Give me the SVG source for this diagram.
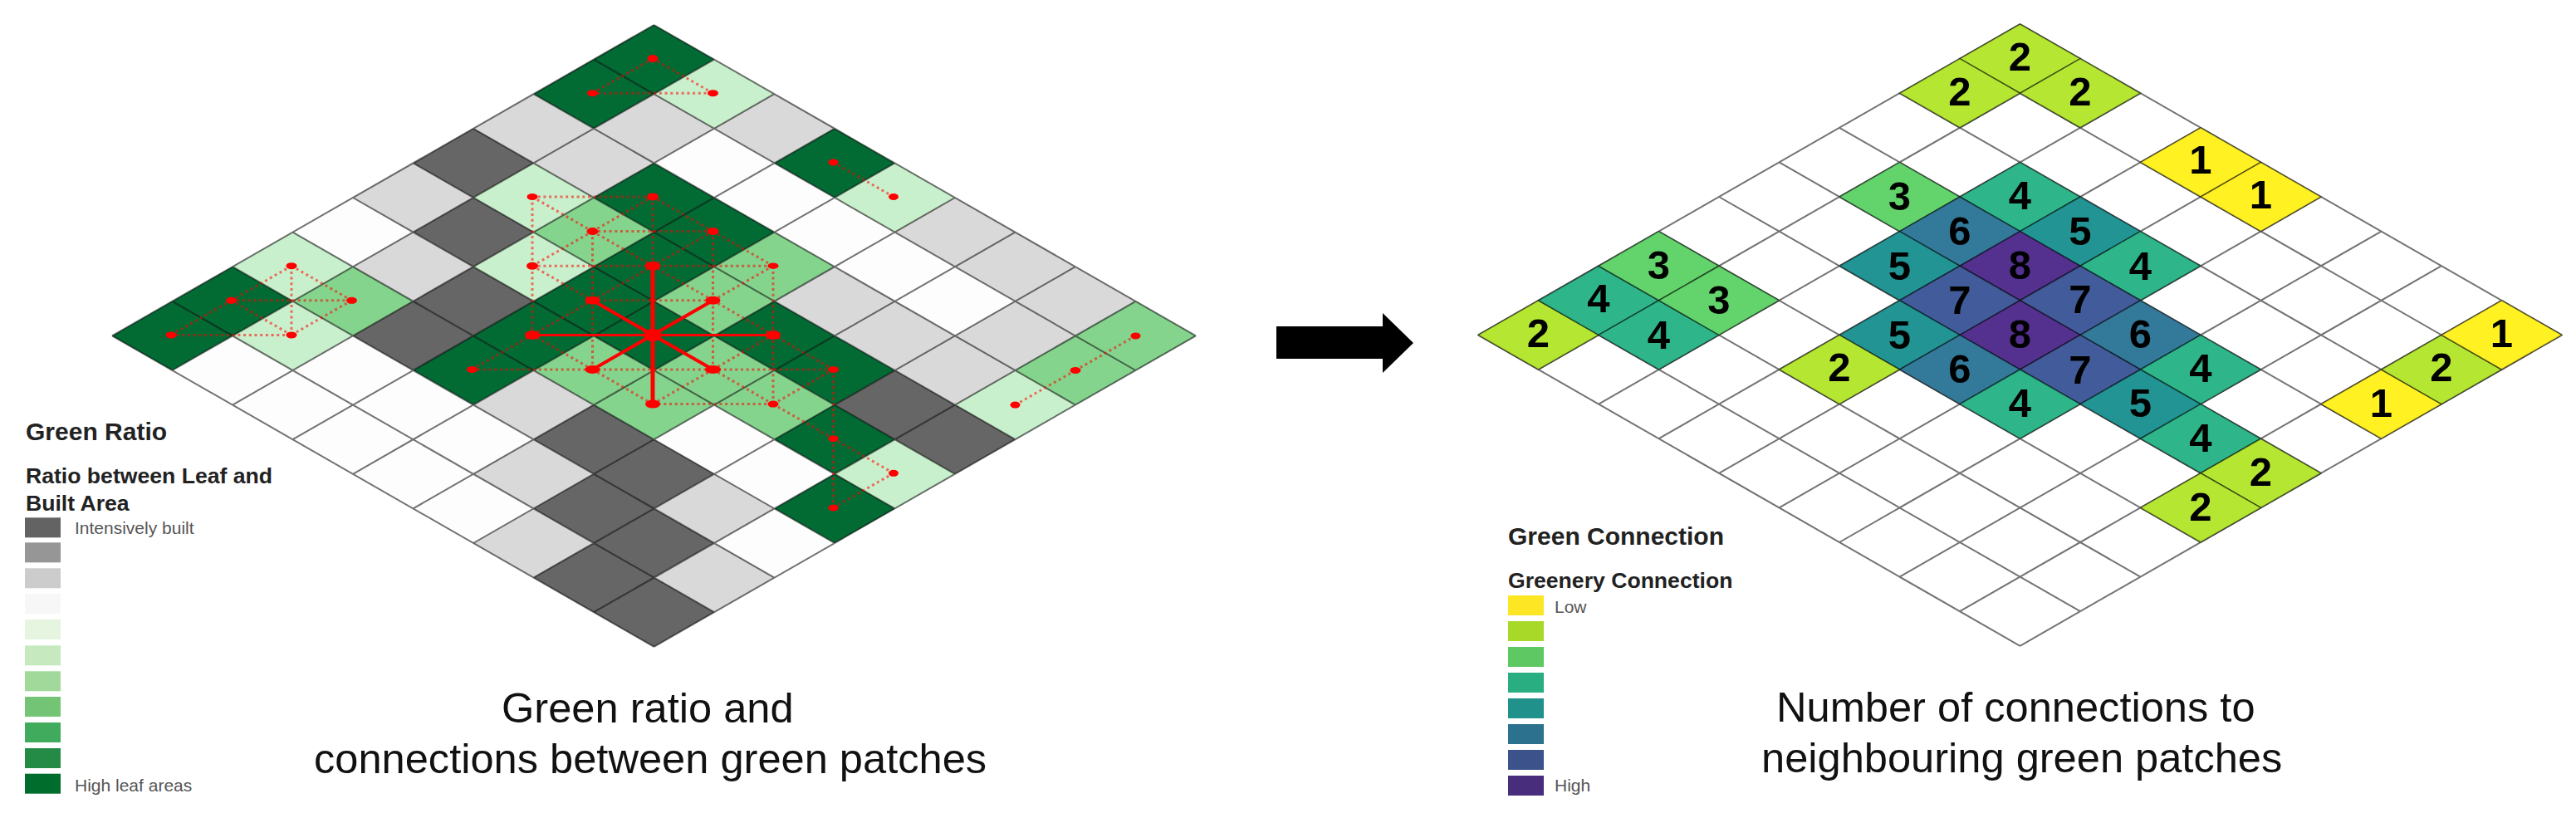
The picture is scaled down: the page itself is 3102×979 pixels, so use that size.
<svg xmlns="http://www.w3.org/2000/svg" width="3102" height="979" viewBox="0 0 3102 979">
<style>
text{font-family:"Liberation Sans",Arial,sans-serif}
.W{fill:#fdfdfd}.L{fill:#d9d9d9}.K{fill:#666666}.G{fill:#026b34}.M{fill:#84d48d}.P{fill:#c9f0cc}
.grid{fill:none;stroke:#000;stroke-opacity:.55;stroke-width:2}
.patch{stroke:#000;stroke-opacity:.5;stroke-width:1.6}
.v1{fill:#fff122}.v2{fill:#b5e732}.v3{fill:#62d46b}.v4{fill:#2eb58a}.v5{fill:#229494}.v6{fill:#33799a}.v7{fill:#425b9a}.v8{fill:#54308f}
.num{font-size:49px;font-weight:700;fill:#000;text-anchor:middle}
.dot line{stroke:#ff0000;stroke-opacity:.55;stroke-width:3;stroke-dasharray:3 3.7}
.solid line{stroke:#ff0000}
.pts ellipse{fill:#ff0000}
.t1{font-size:30px;font-weight:700;fill:#222}
.t2{font-size:26.6px;font-weight:700;fill:#222}
.lab{font-size:21px;fill:#555}
.cap{font-size:50.6px;fill:#111}
</style>
<defs>
<polygon id="c" points="0,-41.6 72.5,0 0,41.6 -72.5,0"/>
<path id="g" class="grid" d="M787.5 30l652.5 374.4M715 71.6l652.5 374.4M642.5 113.2l652.5 374.4M570 154.8l652.5 374.4M497.5 196.4l652.5 374.4M425 238l652.5 374.4M352.5 279.6l652.5 374.4M280 321.2l652.5 374.4M207.5 362.8l652.5 374.4M135 404.4l652.5 374.4M787.5 30l-652.5 374.4M860 71.6l-652.5 374.4M932.5 113.2l-652.5 374.4M1005 154.8l-652.5 374.4M1077.5 196.4l-652.5 374.4M1150 238l-652.5 374.4M1222.5 279.6l-652.5 374.4M1295 321.2l-652.5 374.4M1367.5 362.8l-652.5 374.4M1440 404.4l-652.5 374.4"/>
</defs>
<rect width="3102" height="979" fill="#ffffff"/>

<g id="left-map">
<g id="left-cells">
<use href="#c" class="G" x="787.5" y="71.6"/>
<use href="#c" class="G" x="715" y="113.2"/><use href="#c" class="P" x="860" y="113.2"/>
<use href="#c" class="L" x="642.5" y="154.8"/><use href="#c" class="L" x="787.5" y="154.8"/><use href="#c" class="L" x="932.5" y="154.8"/>
<use href="#c" class="K" x="570" y="196.4"/><use href="#c" class="L" x="715" y="196.4"/><use href="#c" class="W" x="860" y="196.4"/><use href="#c" class="G" x="1005" y="196.4"/>
<use href="#c" class="L" x="497.5" y="238"/><use href="#c" class="P" x="642.5" y="238"/><use href="#c" class="G" x="787.5" y="238"/><use href="#c" class="W" x="932.5" y="238"/><use href="#c" class="P" x="1077.5" y="238"/>
<use href="#c" class="W" x="425" y="279.6"/><use href="#c" class="K" x="570" y="279.6"/><use href="#c" class="M" x="715" y="279.6"/><use href="#c" class="G" x="860" y="279.6"/><use href="#c" class="W" x="1005" y="279.6"/><use href="#c" class="L" x="1150" y="279.6"/>
<use href="#c" class="P" x="352.5" y="321.2"/><use href="#c" class="L" x="497.5" y="321.2"/><use href="#c" class="P" x="642.5" y="321.2"/><use href="#c" class="G" x="787.5" y="321.2"/><use href="#c" class="M" x="932.5" y="321.2"/><use href="#c" class="W" x="1077.5" y="321.2"/><use href="#c" class="L" x="1222.5" y="321.2"/>
<use href="#c" class="G" x="280" y="362.8"/><use href="#c" class="M" x="425" y="362.8"/><use href="#c" class="K" x="570" y="362.8"/><use href="#c" class="G" x="715" y="362.8"/><use href="#c" class="M" x="860" y="362.8"/><use href="#c" class="L" x="1005" y="362.8"/><use href="#c" class="W" x="1150" y="362.8"/><use href="#c" class="L" x="1295" y="362.8"/>
<use href="#c" class="G" x="207.5" y="404.4"/><use href="#c" class="P" x="352.5" y="404.4"/><use href="#c" class="K" x="497.5" y="404.4"/><use href="#c" class="G" x="642.5" y="404.4"/><use href="#c" class="G" x="787.5" y="404.4"/><use href="#c" class="G" x="932.5" y="404.4"/><use href="#c" class="L" x="1077.5" y="404.4"/><use href="#c" class="L" x="1222.5" y="404.4"/><use href="#c" class="M" x="1367.5" y="404.4"/>
<use href="#c" class="W" x="280" y="446"/><use href="#c" class="W" x="425" y="446"/><use href="#c" class="G" x="570" y="446"/><use href="#c" class="M" x="715" y="446"/><use href="#c" class="M" x="860" y="446"/><use href="#c" class="G" x="1005" y="446"/><use href="#c" class="L" x="1150" y="446"/><use href="#c" class="M" x="1295" y="446"/>
<use href="#c" class="W" x="352.5" y="487.6"/><use href="#c" class="W" x="497.5" y="487.6"/><use href="#c" class="L" x="642.5" y="487.6"/><use href="#c" class="M" x="787.5" y="487.6"/><use href="#c" class="M" x="932.5" y="487.6"/><use href="#c" class="K" x="1077.5" y="487.6"/><use href="#c" class="P" x="1222.5" y="487.6"/>
<use href="#c" class="W" x="425" y="529.2"/><use href="#c" class="W" x="570" y="529.2"/><use href="#c" class="K" x="715" y="529.2"/><use href="#c" class="W" x="860" y="529.2"/><use href="#c" class="G" x="1005" y="529.2"/><use href="#c" class="K" x="1150" y="529.2"/>
<use href="#c" class="W" x="497.5" y="570.8"/><use href="#c" class="L" x="642.5" y="570.8"/><use href="#c" class="K" x="787.5" y="570.8"/><use href="#c" class="W" x="932.5" y="570.8"/><use href="#c" class="P" x="1077.5" y="570.8"/>
<use href="#c" class="W" x="570" y="612.4"/><use href="#c" class="K" x="715" y="612.4"/><use href="#c" class="L" x="860" y="612.4"/><use href="#c" class="G" x="1005" y="612.4"/>
<use href="#c" class="L" x="642.5" y="654"/><use href="#c" class="K" x="787.5" y="654"/><use href="#c" class="W" x="932.5" y="654"/>
<use href="#c" class="K" x="715" y="695.6"/><use href="#c" class="L" x="860" y="695.6"/>
<use href="#c" class="K" x="787.5" y="737.2"/>
</g>
<use href="#g"/>
</g>

<g id="connectors" transform="translate(-1.5,-1)">
<g class="dot">
<line x1="787.5" y1="71.6" x2="715" y2="113.2"/><line x1="787.5" y1="71.6" x2="860" y2="113.2"/><line x1="715" y1="113.2" x2="860" y2="113.2"/>
<line x1="1005" y1="196.4" x2="1077.5" y2="238"/>
<line x1="207.5" y1="404.4" x2="280" y2="362.8"/><line x1="207.5" y1="404.4" x2="352.5" y2="404.4"/><line x1="280" y1="362.8" x2="352.5" y2="321.2"/><line x1="280" y1="362.8" x2="352.5" y2="404.4"/><line x1="280" y1="362.8" x2="425" y2="362.8"/><line x1="352.5" y1="321.2" x2="352.5" y2="404.4"/><line x1="352.5" y1="321.2" x2="425" y2="362.8"/><line x1="352.5" y1="404.4" x2="425" y2="362.8"/>
<line x1="1224" y1="488.6" x2="1296.5" y2="447"/><line x1="1296.5" y1="447" x2="1369" y2="405.4"/>
<line x1="642.5" y1="238" x2="787.5" y2="238"/><line x1="715" y1="279.6" x2="860" y2="279.6"/><line x1="642.5" y1="321.2" x2="787.5" y2="321.2"/><line x1="787.5" y1="321.2" x2="932.5" y2="321.2"/><line x1="715" y1="362.8" x2="860" y2="362.8"/><line x1="570" y1="446" x2="715" y2="446"/><line x1="715" y1="446" x2="860" y2="446"/><line x1="860" y1="446" x2="1005" y2="446"/><line x1="787.5" y1="487.6" x2="932.5" y2="487.6"/>
<line x1="642.5" y1="238" x2="642.5" y2="321.2"/><line x1="642.5" y1="321.2" x2="642.5" y2="404.4"/><line x1="715" y1="279.6" x2="715" y2="362.8"/><line x1="715" y1="362.8" x2="715" y2="446"/><line x1="787.5" y1="238" x2="787.5" y2="321.2"/><line x1="860" y1="279.6" x2="860" y2="362.8"/><line x1="860" y1="362.8" x2="860" y2="446"/><line x1="932.5" y1="321.2" x2="932.5" y2="404.4"/><line x1="932.5" y1="404.4" x2="932.5" y2="487.6"/><line x1="1005" y1="446" x2="1005" y2="529.2"/><line x1="1005" y1="529.2" x2="1005" y2="612.4"/>
<line x1="642.5" y1="238" x2="715" y2="279.6"/><line x1="787.5" y1="238" x2="715" y2="279.6"/><line x1="787.5" y1="238" x2="860" y2="279.6"/><line x1="715" y1="279.6" x2="642.5" y2="321.2"/><line x1="715" y1="279.6" x2="787.5" y2="321.2"/><line x1="860" y1="279.6" x2="787.5" y2="321.2"/><line x1="860" y1="279.6" x2="932.5" y2="321.2"/><line x1="642.5" y1="321.2" x2="715" y2="362.8"/><line x1="787.5" y1="321.2" x2="715" y2="362.8"/><line x1="787.5" y1="321.2" x2="860" y2="362.8"/><line x1="932.5" y1="321.2" x2="860" y2="362.8"/><line x1="715" y1="362.8" x2="642.5" y2="404.4"/><line x1="860" y1="362.8" x2="932.5" y2="404.4"/><line x1="642.5" y1="404.4" x2="570" y2="446"/><line x1="642.5" y1="404.4" x2="715" y2="446"/><line x1="932.5" y1="404.4" x2="860" y2="446"/><line x1="932.5" y1="404.4" x2="1005" y2="446"/><line x1="715" y1="446" x2="787.5" y2="487.6"/><line x1="860" y1="446" x2="787.5" y2="487.6"/><line x1="860" y1="446" x2="932.5" y2="487.6"/><line x1="1005" y1="446" x2="932.5" y2="487.6"/><line x1="932.5" y1="487.6" x2="1005" y2="529.2"/><line x1="1005" y1="529.2" x2="1077.5" y2="570.8"/><line x1="1077.5" y1="570.8" x2="1005" y2="612.4"/>
</g>
<g class="solid">
<line x1="642.5" y1="404.4" x2="932.5" y2="404.4" stroke-width="3"/>
<line x1="787.5" y1="321.2" x2="787.5" y2="487.6" stroke-width="5"/>
<line x1="715" y1="362.8" x2="860" y2="446" stroke-width="4"/>
<line x1="860" y1="362.8" x2="715" y2="446" stroke-width="4"/>
</g>
</g>

<g id="green-points" class="pts" transform="translate(-1.5,-1)">
<g id="p-0-0"><ellipse cx="787.5" cy="71.6" rx="6.5" ry="4.5"/></g>
<g id="p-m1-1"><ellipse cx="715" cy="113.2" rx="6.5" ry="4"/></g>
<g id="p-1-1"><ellipse cx="860" cy="113.2" rx="6.5" ry="4"/></g>
<g id="p-3-3"><ellipse cx="1005" cy="196.4" rx="6" ry="4"/></g>
<g id="p-4-4"><ellipse cx="1077.5" cy="238" rx="6" ry="4"/></g>
<g id="p-m8-8"><ellipse cx="207.5" cy="404.4" rx="6.5" ry="4"/></g>
<g id="p-m7-7"><ellipse cx="280" cy="362.8" rx="6.5" ry="4"/></g>
<g id="p-m6-6"><ellipse cx="352.5" cy="321.2" rx="6.5" ry="4"/></g>
<g id="p-m6-8"><ellipse cx="352.5" cy="404.4" rx="6.5" ry="4"/></g>
<g id="p-m5-7"><ellipse cx="425" cy="362.8" rx="6.5" ry="4"/></g>
<g id="p-6-10"><ellipse cx="1224" cy="488.6" rx="6" ry="4"/></g>
<g id="p-7-9"><ellipse cx="1296.5" cy="447" rx="6.5" ry="4"/></g>
<g id="p-8-8"><ellipse cx="1369" cy="405.4" rx="6" ry="4"/></g>
<g id="p-m2-4"><ellipse cx="642.5" cy="238" rx="6.5" ry="4"/></g>
<g id="p-0-4"><ellipse cx="787.5" cy="238" rx="7" ry="4.5"/></g>
<g id="p-m1-5"><ellipse cx="715" cy="279.6" rx="7" ry="4.5"/></g>
<g id="p-1-5"><ellipse cx="860" cy="279.6" rx="7" ry="4.5"/></g>
<g id="p-m2-6"><ellipse cx="642.5" cy="321.2" rx="7" ry="4.5"/></g>
<g id="p-0-6"><ellipse cx="787.5" cy="321.2" rx="9" ry="5.5"/></g>
<g id="p-2-6"><ellipse cx="932.5" cy="321.2" rx="6.5" ry="3.7"/></g>
<g id="p-m1-7"><ellipse cx="715" cy="362.8" rx="9" ry="5"/></g>
<g id="p-1-7"><ellipse cx="860" cy="362.8" rx="9" ry="5"/></g>
<g id="p-m2-8"><ellipse cx="642.5" cy="404.4" rx="9" ry="5.5"/></g>
<g id="p-0-8"><ellipse cx="787.5" cy="404.4" rx="11" ry="7.5"/></g>
<g id="p-2-8"><ellipse cx="932.5" cy="404.4" rx="9" ry="5.5"/></g>
<g id="p-m3-9"><ellipse cx="570" cy="446" rx="6.5" ry="4"/></g>
<g id="p-m1-9"><ellipse cx="715" cy="446" rx="9" ry="5"/></g>
<g id="p-1-9"><ellipse cx="860" cy="446" rx="9.5" ry="5"/></g>
<g id="p-3-9"><ellipse cx="1005" cy="446" rx="6.5" ry="4"/></g>
<g id="p-0-10"><ellipse cx="787.5" cy="487.6" rx="9" ry="5"/></g>
<g id="p-2-10"><ellipse cx="932.5" cy="487.6" rx="6.5" ry="4"/></g>
<g id="p-3-11"><ellipse cx="1005" cy="529.2" rx="6" ry="4"/></g>
<g id="p-4-12"><ellipse cx="1077.5" cy="570.8" rx="6" ry="4"/></g>
<g id="p-3-13"><ellipse cx="1005" cy="612.4" rx="6" ry="4"/></g>
</g>

<g id="left-legend">
<text class="t1" x="31" y="530">Green Ratio</text>
<text class="t2" x="31" y="582">Ratio between Leaf and</text>
<text class="t2" x="31" y="615">Built Area</text>
<rect x="30" y="623.3" width="43" height="24" fill="#636363"/>
<rect x="30" y="653.3" width="43" height="24" fill="#969696"/>
<rect x="30" y="684.3" width="43" height="24" fill="#cccccc"/>
<rect x="30" y="715" width="43" height="24" fill="#f7f7f7"/>
<rect x="30" y="746" width="43" height="24" fill="#e5f5e0"/>
<rect x="30" y="777.3" width="43" height="24" fill="#c7e9c0"/>
<rect x="30" y="808.3" width="43" height="24" fill="#a1d99b"/>
<rect x="30" y="839" width="43" height="24" fill="#74c476"/>
<rect x="30" y="870" width="43" height="24" fill="#41ab5d"/>
<rect x="30" y="901" width="43" height="24" fill="#238b45"/>
<rect x="30" y="931.7" width="43" height="24" fill="#006d2c"/>
<text class="lab" x="90" y="643">Intensively built</text>
<text class="lab" x="90" y="953">High leaf areas</text>
</g>

<text id="left-caption-1" class="cap" x="604" y="870">Green ratio and</text>
<text id="left-caption-2" class="cap" x="378" y="931">connections between green patches</text>

<g id="arrow"><polygon points="1537,393 1665,393 1665,377 1702,413 1665,449 1665,432 1537,432" fill="#000"/></g>

<g id="right-map" transform="translate(1645,-1)">
<use href="#g"/>
<g id="r-0-0"><use href="#c" class="patch v2" x="787.5" y="71.6"/><text class="num" x="787.5" y="86">2</text></g>
<g id="r-m1-1"><use href="#c" class="patch v2" x="715" y="113.2"/><text class="num" x="715" y="128">2</text></g>
<g id="r-1-1"><use href="#c" class="patch v2" x="860" y="113.2"/><text class="num" x="860" y="128">2</text></g>
<g id="r-3-3"><use href="#c" class="patch v1" x="1005" y="196.4"/><text class="num" x="1005" y="210">1</text></g>
<g id="r-4-4"><use href="#c" class="patch v1" x="1077.5" y="238"/><text class="num" x="1077.5" y="252">1</text></g>
<g id="r-m8-8"><use href="#c" class="patch v2" x="207.5" y="404.4"/><text class="num" x="207.5" y="419">2</text></g>
<g id="r-m7-7"><use href="#c" class="patch v4" x="280" y="362.8"/><text class="num" x="280" y="377">4</text></g>
<g id="r-m6-6"><use href="#c" class="patch v3" x="352.5" y="321.2"/><text class="num" x="352.5" y="337">3</text></g>
<g id="r-m6-8"><use href="#c" class="patch v4" x="352.5" y="404.4"/><text class="num" x="352.5" y="421">4</text></g>
<g id="r-m5-7"><use href="#c" class="patch v3" x="425" y="362.8"/><text class="num" x="425" y="379">3</text></g>
<g id="r-6-10"><use href="#c" class="patch v1" x="1222.5" y="487.6"/><text class="num" x="1222.5" y="503">1</text></g>
<g id="r-7-9"><use href="#c" class="patch v2" x="1295" y="446"/><text class="num" x="1295" y="460">2</text></g>
<g id="r-8-8"><use href="#c" class="patch v1" x="1367.5" y="404.4"/><text class="num" x="1367.5" y="419">1</text></g>
<g id="r-m2-4"><use href="#c" class="patch v3" x="642.5" y="238"/><text class="num" x="642.5" y="254">3</text></g>
<g id="r-0-4"><use href="#c" class="patch v4" x="787.5" y="238"/><text class="num" x="787.5" y="253">4</text></g>
<g id="r-m1-5"><use href="#c" class="patch v6" x="715" y="279.6"/><text class="num" x="715" y="296">6</text></g>
<g id="r-1-5"><use href="#c" class="patch v5" x="860" y="279.6"/><text class="num" x="860" y="296">5</text></g>
<g id="r-m2-6"><use href="#c" class="patch v5" x="642.5" y="321.2"/><text class="num" x="642.5" y="338">5</text></g>
<g id="r-0-6"><use href="#c" class="patch v8" x="787.5" y="321.2"/><text class="num" x="787.5" y="337">8</text></g>
<g id="r-2-6"><use href="#c" class="patch v4" x="932.5" y="321.2"/><text class="num" x="932.5" y="338">4</text></g>
<g id="r-m1-7"><use href="#c" class="patch v7" x="715" y="362.8"/><text class="num" x="715" y="379">7</text></g>
<g id="r-1-7"><use href="#c" class="patch v7" x="860" y="362.8"/><text class="num" x="860" y="378">7</text></g>
<g id="r-m2-8"><use href="#c" class="patch v5" x="642.5" y="404.4"/><text class="num" x="642.5" y="421">5</text></g>
<g id="r-0-8"><use href="#c" class="patch v8" x="787.5" y="404.4"/><text class="num" x="787.5" y="420">8</text></g>
<g id="r-2-8"><use href="#c" class="patch v6" x="932.5" y="404.4"/><text class="num" x="932.5" y="420">6</text></g>
<g id="r-m3-9"><use href="#c" class="patch v2" x="570" y="446"/><text class="num" x="570" y="460">2</text></g>
<g id="r-m1-9"><use href="#c" class="patch v6" x="715" y="446"/><text class="num" x="715" y="462">6</text></g>
<g id="r-1-9"><use href="#c" class="patch v7" x="860" y="446"/><text class="num" x="860" y="463">7</text></g>
<g id="r-3-9"><use href="#c" class="patch v4" x="1005" y="446"/><text class="num" x="1005" y="461">4</text></g>
<g id="r-0-10"><use href="#c" class="patch v4" x="787.5" y="487.6"/><text class="num" x="787.5" y="503">4</text></g>
<g id="r-2-10"><use href="#c" class="patch v5" x="932.5" y="487.6"/><text class="num" x="932.5" y="503">5</text></g>
<g id="r-3-11"><use href="#c" class="patch v4" x="1005" y="529.2"/><text class="num" x="1005" y="545">4</text></g>
<g id="r-4-12"><use href="#c" class="patch v2" x="1077.5" y="570.8"/><text class="num" x="1077.5" y="586">2</text></g>
<g id="r-3-13"><use href="#c" class="patch v2" x="1005" y="612.4"/><text class="num" x="1005" y="628">2</text></g>
</g>

<g id="right-legend">
<text class="t1" x="1816" y="656">Green Connection</text>
<text class="t2" x="1816" y="708">Greenery Connection</text>
<rect x="1816" y="717" width="43" height="24" fill="#fde725"/>
<rect x="1816" y="748" width="43" height="24" fill="#a8d928"/>
<rect x="1816" y="779" width="43" height="24" fill="#5ec962"/>
<rect x="1816" y="810" width="43" height="24" fill="#28ae80"/>
<rect x="1816" y="841" width="43" height="24" fill="#21918c"/>
<rect x="1816" y="872" width="43" height="24" fill="#2c728e"/>
<rect x="1816" y="903" width="43" height="24" fill="#3b528b"/>
<rect x="1816" y="934" width="43" height="24" fill="#472d7b"/>
<text class="lab" x="1872" y="738">Low</text>
<text class="lab" x="1872" y="953">High</text>
</g>

<text id="right-caption-1" class="cap" x="2139" y="869">Number of connections to</text>
<text id="right-caption-2" class="cap" x="2121" y="930">neighbouring green patches</text>
</svg>
